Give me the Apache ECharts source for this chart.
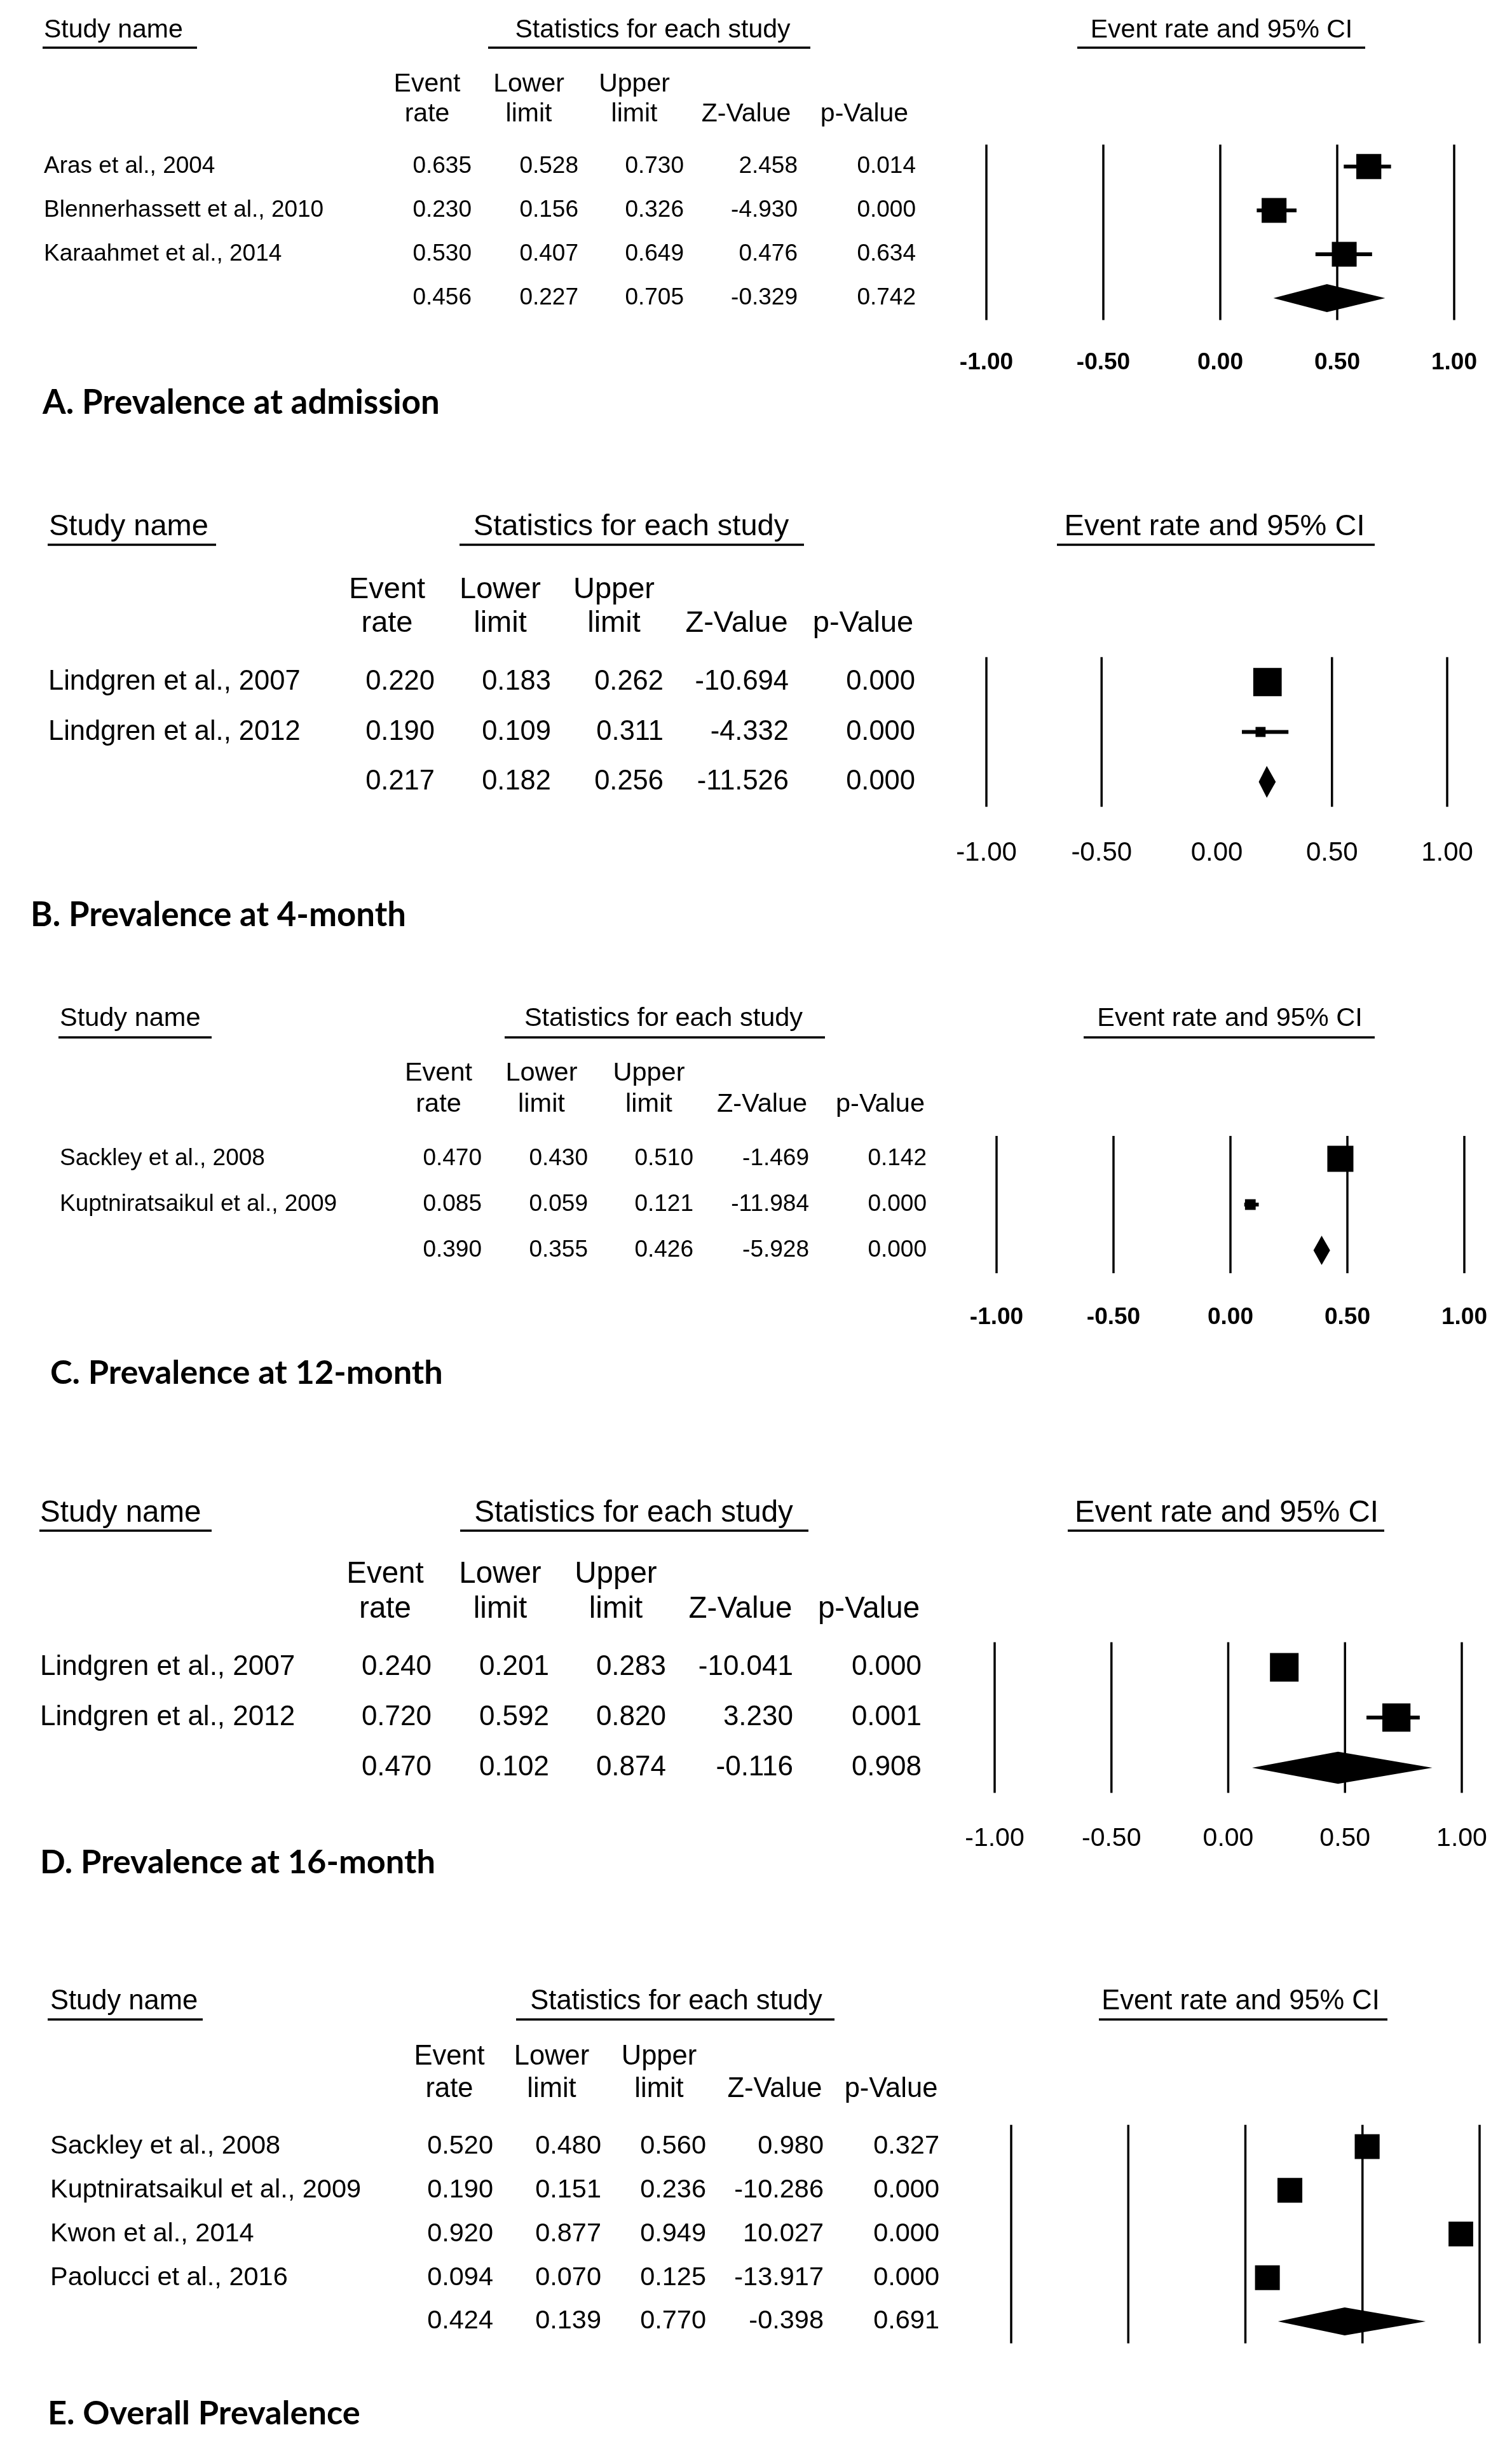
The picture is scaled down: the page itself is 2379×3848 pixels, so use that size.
<!DOCTYPE html>
<html>
<head>
<meta charset="utf-8">
<script src="https://cdn.jsdelivr.net/npm/echarts@6/dist/echarts.min.js"></script>
<style>
html,body{margin:0;padding:0;background:#ffffff;}
#chart{width:2379px;height:3848px;}
</style>
</head>
<body>
<div id="chart"></div>
<script>
// ---------------- DATA ----------------
const headerStudy = 'Study name';
const headerStats = 'Statistics for each study';
const headerCI = 'Event rate and 95% CI';
const colHead1 = ['Event', 'Lower', 'Upper', '', ''];
const colHead2 = ['rate', 'limit', 'limit', 'Z-Value', 'p-Value'];
const axisTicks = [-1, -0.5, 0, 0.5, 1];

// A
const titleA = 'A. Prevalence at admission';
const studiesA = ['Aras et al., 2004', 'Blennerhassett et al., 2010', 'Karaahmet et al., 2014'];
const rateA = [0.635, 0.230, 0.530];
const lowerA = [0.528, 0.156, 0.407];
const upperA = [0.730, 0.326, 0.649];
const zA = [2.458, -4.930, 0.476];
const pA = [0.014, 0.000, 0.634];
const pooledA = [0.456, 0.227, 0.705, -0.329, 0.742];
const modelA = 'random';
const refLinesA = [-1, -0.5, 0, 0.5, 1];

// B
const titleB = 'B. Prevalence at 4-month';
const studiesB = ['Lindgren et al., 2007', 'Lindgren et al., 2012'];
const rateB = [0.220, 0.190];
const lowerB = [0.183, 0.109];
const upperB = [0.262, 0.311];
const zB = [-10.694, -4.332];
const pB = [0.000, 0.000];
const pooledB = [0.217, 0.182, 0.256, -11.526, 0.000];
const modelB = 'fixed';
const refLinesB = [-1, -0.5, 0.5, 1];

// C
const titleC = 'C. Prevalence at 12-month';
const studiesC = ['Sackley et al., 2008', 'Kuptniratsaikul et al., 2009'];
const rateC = [0.470, 0.085];
const lowerC = [0.430, 0.059];
const upperC = [0.510, 0.121];
const zC = [-1.469, -11.984];
const pC = [0.142, 0.000];
const pooledC = [0.390, 0.355, 0.426, -5.928, 0.000];
const modelC = 'fixed';
const refLinesC = [-1, -0.5, 0, 0.5, 1];

// D
const titleD = 'D. Prevalence at 16-month';
const studiesD = ['Lindgren et al., 2007', 'Lindgren et al., 2012'];
const rateD = [0.240, 0.720];
const lowerD = [0.201, 0.592];
const upperD = [0.283, 0.820];
const zD = [-10.041, 3.230];
const pD = [0.000, 0.001];
const pooledD = [0.470, 0.102, 0.874, -0.116, 0.908];
const modelD = 'random';
const refLinesD = [-1, -0.5, 0, 0.5, 1];

// E
const titleE = 'E. Overall Prevalence';
const studiesE = ['Sackley et al., 2008', 'Kuptniratsaikul et al., 2009', 'Kwon et al., 2014', 'Paolucci et al., 2016'];
const rateE = [0.520, 0.190, 0.920, 0.094];
const lowerE = [0.480, 0.151, 0.877, 0.070];
const upperE = [0.560, 0.236, 0.949, 0.125];
const zE = [0.980, -10.286, 10.027, -13.917];
const pE = [0.327, 0.000, 0.000, 0.000];
const pooledE = [0.424, 0.139, 0.770, -0.398, 0.691];
const modelE = 'random';
const refLinesE = [-1, -0.5, 0, 0.5, 1];

const panels = [
  {title: titleA, names: studiesA, rate: rateA, lower: lowerA, upper: upperA, z: zA, p: pA, pooled: pooledA, model: modelA, refs: refLinesA},
  {title: titleB, names: studiesB, rate: rateB, lower: lowerB, upper: upperB, z: zB, p: pB, pooled: pooledB, model: modelB, refs: refLinesB},
  {title: titleC, names: studiesC, rate: rateC, lower: lowerC, upper: upperC, z: zC, p: pC, pooled: pooledC, model: modelC, refs: refLinesC},
  {title: titleD, names: studiesD, rate: rateD, lower: lowerD, upper: upperD, z: zD, p: pD, pooled: pooledD, model: modelD, refs: refLinesD},
  {title: titleE, names: studiesE, rate: rateE, lower: lowerE, upper: upperE, z: zE, p: pE, pooled: pooledE, model: modelE, refs: refLinesE}
];

// ---------------- LAYOUT (positions / sizes / styles) ----------------
const L = [
  {hy:48, uy:75, fh:41, fb:37, study:{x:69,u:[67,310]}, stats:{c:1027,u:[768,1275]}, ci:{c:1922,u:[1695,2148]},
   h1:133, h2:180, cols:[672,832,998,1174,1360], right:[742,910,1076,1255,1441], nameX:69,
   row0:262, sp:69, x0:1552, x1:2288, tick:{show:true,bold:true,size:37,margin:49}, title:{x:67,y:634,w:625}},
  {hy:829, uy:857, fh:47, fb:43.5, study:{x:77,u:[75,340]}, stats:{c:993,u:[723,1265]}, ci:{c:1911,u:[1663,2163]},
   h1:928, h2:981, cols:[609,787,966,1159,1358], right:[684,867,1044,1241,1440], nameX:76,
   row0:1073, sp:78.5, x0:1552, x1:2277, tick:{show:true,bold:false,size:42,margin:52}, title:{x:48,y:1440,w:591}},
  {hy:1603, uy:1632, fh:41.5, fb:37, study:{x:94,u:[92,333]}, stats:{c:1044,u:[794,1298]}, ci:{c:1935,u:[1705,2163]},
   h1:1689, h2:1738, cols:[690,852,1021,1199,1385], right:[758,925,1091,1273,1458], nameX:94,
   row0:1823, sp:72, x0:1568, x1:2304, tick:{show:true,bold:true,size:37,margin:51}, title:{x:79,y:2160,w:618}},
  {hy:2381, uy:2408, fh:47.5, fb:44, study:{x:63,u:[62,333]}, stats:{c:997,u:[724,1272]}, ci:{c:1930,u:[1680,2178]},
   h1:2477, h2:2532, cols:[606,787,969,1165,1367], right:[679,864,1048,1248,1450], nameX:63,
   row0:2623, sp:79, x0:1565, x1:2300, tick:{show:true,bold:false,size:41,margin:52}, title:{x:63,y:2930,w:622}},
  {hy:3149, uy:3177, fh:43.5, fb:41.5, study:{x:79,u:[75,319]}, stats:{c:1064,u:[812,1313]}, ci:{c:1952,u:[1729,2183]},
   h1:3236, h2:3287, cols:[707,868,1037,1219,1402], right:[776,946,1111,1296,1478], nameX:79,
   row0:3377, sp:68.75, x0:1591, x1:2328, tick:{show:false}, title:{x:75,y:3797,w:492}}
];
const BOX_FRAC = 0.57, DIAMOND_FRAC = 0.64, WHISKER = 6, REF_W = 3.5, UNDER_W = 3.5;
const FONT = '"Liberation Sans", Arial, sans-serif';
const TITLE_FONT = 'Lato, "Open Sans", sans-serif';

// ---------------- helpers ----------------
function logit(x) { return Math.log(x / (1 - x)); }
function relWeights(rate, lower, upper, model) {
  const y = rate.map(logit);
  const v = lower.map((l, i) => { const se = (logit(upper[i]) - logit(l)) / (2 * 1.959964); return se * se; });
  let w = v.map(x => 1 / x);
  if (model === 'random') {
    const sw = w.reduce((a, b) => a + b, 0);
    const ybar = w.reduce((a, wi, i) => a + wi * y[i], 0) / sw;
    const Q = w.reduce((a, wi, i) => a + wi * (y[i] - ybar) * (y[i] - ybar), 0);
    const C = sw - w.reduce((a, wi) => a + wi * wi, 0) / sw;
    const tau2 = Math.max(0, (Q - (y.length - 1)) / C);
    w = v.map(x => 1 / (x + tau2));
  }
  const wmax = Math.max.apply(null, w);
  return w.map(x => x / wmax);
}
const measureCtx = document.createElement('canvas').getContext('2d');
function fitSize(text, weight, family, target) {
  measureCtx.font = weight + ' 100px ' + family;
  return 100 * target / measureCtx.measureText(text).width;
}
function txt(text, x, y, align, size, weight, family) {
  return {
    type: 'text', x: x, y: y, silent: true,
    style: {text: text, fill: '#000', fontSize: size, fontWeight: weight || 'normal', fontFamily: family || FONT,
            align: align, verticalAlign: 'middle', textAlign: align, textVerticalAlign: 'middle'}
  };
}
function hline(x1, x2, y, w) {
  return {type: 'line', silent: true, shape: {x1: x1, y1: y, x2: x2, y2: y}, style: {stroke: '#000', lineWidth: w}};
}

// ---------------- build option ----------------
const grids = [], xAxes = [], yAxes = [], series = [], graphics = [];

panels.forEach((P, k) => {
  const G = L[k];
  const nStudies = P.names.length;
  const n = nStudies + 1;
  const rel = relWeights(P.rate, P.lower, P.upper, P.model);

  grids.push({left: G.x0, top: G.row0 - G.sp / 2, width: G.x1 - G.x0, height: n * G.sp});
  xAxes.push({
    type: 'value', gridIndex: k, min: axisTicks[0], max: axisTicks[axisTicks.length - 1], interval: 0.5,
    axisLine: {show: false}, axisTick: {show: false}, splitLine: {show: false},
    axisLabel: {
      show: !!G.tick.show, formatter: v => v.toFixed(2), color: '#000', fontFamily: FONT,
      fontSize: G.tick.size || 12, fontWeight: G.tick.bold ? 'bold' : 'normal',
      margin: G.tick.margin || 8, showMinLabel: true, showMaxLabel: true, hideOverlap: false
    }
  });
  yAxes.push({type: 'value', gridIndex: k, min: 0.5, max: n + 0.5, inverse: true, show: false});

  // reference vertical lines
  series.push({
    type: 'custom', xAxisIndex: k, yAxisIndex: k, clip: false, silent: true, z: 1,
    data: P.refs.map(v => [v]),
    encode: {x: 0},
    renderItem: (params, api) => {
      const v = api.value(0);
      const a = api.coord([v, 0.5]), b = api.coord([v, n + 0.5]);
      return {type: 'line', shape: {x1: a[0], y1: a[1], x2: b[0], y2: b[1]}, style: {stroke: '#000', lineWidth: REF_W}};
    }
  });

  // forest marks
  const markData = P.names.map((_, i) => [i + 1, P.rate[i], P.lower[i], P.upper[i], 0, rel[i]]);
  markData.push([n, P.pooled[0], P.pooled[1], P.pooled[2], 1, 1]);
  series.push({
    type: 'custom', xAxisIndex: k, yAxisIndex: k, clip: false, silent: true, z: 5,
    data: markData,
    encode: {x: [1, 2, 3], y: 0},
    renderItem: (params, api) => {
      const row = api.value(0), r = api.value(1), lo = api.value(2), hi = api.value(3), pooled = api.value(4), rw = api.value(5);
      const c = api.coord([r, row]), a = api.coord([lo, row]), b = api.coord([hi, row]);
      const rowH = Math.abs(api.size([0, 1])[1]);
      if (pooled) {
        const h = rowH * DIAMOND_FRAC;
        return {type: 'polygon', shape: {points: [[a[0], c[1]], [c[0], c[1] - h / 2], [b[0], c[1]], [c[0], c[1] + h / 2]]},
                style: {fill: '#000'}};
      }
      const s = rowH * BOX_FRAC * Math.sqrt(rw);
      return {type: 'group', children: [
        {type: 'rect', shape: {x: a[0], y: c[1] - WHISKER / 2, width: b[0] - a[0], height: WHISKER}, style: {fill: '#000'}},
        {type: 'rect', shape: {x: c[0] - s / 2, y: c[1] - s / 2, width: s, height: s}, style: {fill: '#000'}}
      ]};
    }
  });

  // table text rows (names + statistics), rows positioned by the same y scale
  const tableData = P.names.map((_, i) => [i + 1, P.rate[i], P.lower[i], P.upper[i], P.z[i], P.p[i]]);
  tableData.push([n].concat(P.pooled));
  series.push({
    type: 'custom', xAxisIndex: k, yAxisIndex: k, clip: false, silent: true, z: 6,
    data: tableData,
    encode: {y: 0},
    renderItem: (params, api) => {
      const i = params.dataIndex;
      const row = api.value(0);
      const y = api.coord([0, row])[1];
      const children = [];
      if (i < nStudies) children.push(txt(P.names[i], G.nameX, y, 'left', G.fb));
      for (let j = 0; j < 5; j++) {
        children.push(txt(api.value(j + 1).toFixed(3), G.right[j], y, 'right', G.fb));
      }
      return {type: 'group', children: children};
    }
  });

  // headers
  graphics.push(txt(headerStudy, G.study.x, G.hy, 'left', G.fh));
  graphics.push(hline(G.study.u[0], G.study.u[1], G.uy, UNDER_W));
  graphics.push(txt(headerStats, G.stats.c, G.hy, 'center', G.fh));
  graphics.push(hline(G.stats.u[0], G.stats.u[1], G.uy, UNDER_W));
  graphics.push(txt(headerCI, G.ci.c, G.hy, 'center', G.fh));
  graphics.push(hline(G.ci.u[0], G.ci.u[1], G.uy, UNDER_W));
  for (let j = 0; j < 5; j++) {
    if (colHead1[j]) graphics.push(txt(colHead1[j], G.cols[j], G.h1, 'center', G.fh));
    graphics.push(txt(colHead2[j], G.cols[j], G.h2, 'center', G.fh));
  }
  // panel title
  const ts = fitSize(P.title, 'bold', TITLE_FONT, G.title.w);
  graphics.push(txt(P.title, G.title.x, G.title.y, 'left', ts, 'bold', TITLE_FONT));
});

const chart = echarts.init(document.getElementById('chart'), null, {renderer: 'canvas'});
chart.setOption({
  backgroundColor: '#ffffff',
  animation: false,
  grid: grids,
  xAxis: xAxes,
  yAxis: yAxes,
  series: series,
  graphic: {elements: graphics}
});
</script>
</body>
</html>
